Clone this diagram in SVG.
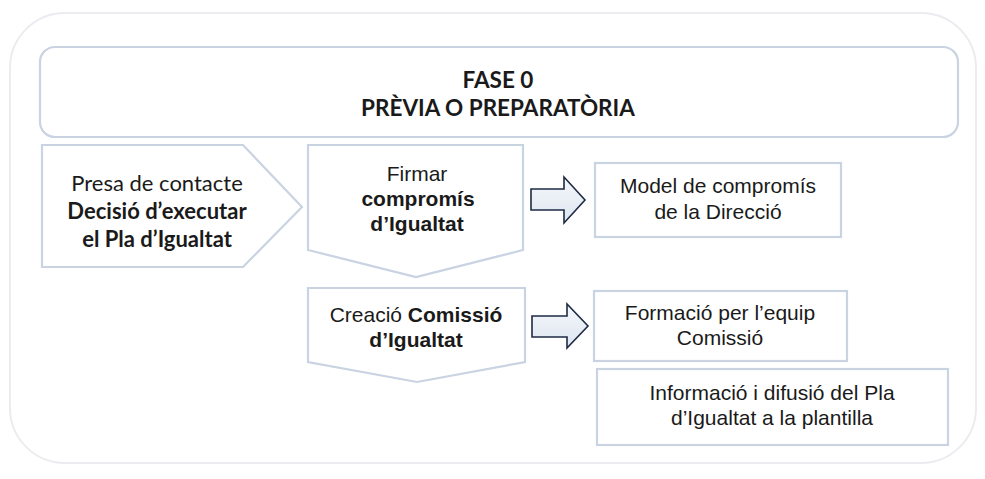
<svg xmlns="http://www.w3.org/2000/svg" width="985" height="479" viewBox="0 0 985 479">
  <defs>
    <linearGradient id="arrowFill" x1="0" y1="0" x2="0" y2="1">
      <stop offset="0" stop-color="#f4f7fb"/>
      <stop offset="1" stop-color="#dfe6f0"/>
    </linearGradient>
    <style>
      .frame { fill: none; stroke: #eaecf0; stroke-width: 2; }
      .box { fill: #ffffff; stroke: #c9d3e2; stroke-width: 2.2; }
      .arrow { fill: url(#arrowFill); stroke: #1e2b45; stroke-width: 1.6; stroke-linejoin: miter; }
      .cal { font-family: Lato, "Liberation Sans", sans-serif; fill: #1a1a1a; text-anchor: middle; }
      .ari { font-family: "Liberation Sans", Arial, sans-serif; font-size: 21px; fill: #1a1a1a; text-anchor: middle; }
      .b { font-weight: bold; }
    </style>
  </defs>
  <rect width="985" height="479" fill="#ffffff"/>
  <rect class="frame" x="10" y="13" width="966" height="450" rx="55"/>

  <g id="header">
    <rect class="box" x="40" y="47" width="918" height="90" rx="15"/>
    <text class="cal b" x="498" y="88" font-size="22.5">FASE 0</text>
    <text class="cal b" x="498" y="116" font-size="22.5">PRÈVIA O PREPARATÒRIA</text>
  </g>

  <g id="presa">
    <polygon class="box" points="42,145 243,145 302,207 243,267 42,267"/>
    <text class="cal" x="157" y="191" font-size="22">Presa de contacte</text>
    <text class="cal b" x="157" y="219" font-size="22">Decisió d’executar</text>
    <text class="cal b" x="157" y="247" font-size="22">el Pla d’Igualtat</text>
  </g>

  <g id="firmar">
    <polygon class="box" points="308,145 523,145 523,250 416,277 308,250"/>
    <text class="ari" x="417" y="181">Firmar</text>
    <text class="ari b" x="418" y="206">compromís</text>
    <text class="ari b" x="417" y="231">d’Igualtat</text>
  </g>

  <g id="creacio">
    <polygon class="box" points="308,288 525,288 525,362 417,382 308,362"/>
    <text class="ari" x="416" y="322">Creació <tspan class="b">Comissió</tspan></text>
    <text class="ari b" x="416" y="347">d’Igualtat</text>
  </g>

  <g id="model">
    <rect class="box" x="595" y="163" width="246" height="74"/>
    <text class="ari" x="718" y="193">Model de compromís</text>
    <text class="ari" x="718" y="219">de la Direcció</text>
  </g>

  <g id="formacio">
    <rect class="box" x="594" y="291" width="253" height="70"/>
    <text class="ari" x="720" y="320">Formació per l’equip</text>
    <text class="ari" x="720" y="345">Comissió</text>
  </g>

  <g id="informacio">
    <rect class="box" x="597" y="369" width="351" height="76"/>
    <text class="ari" x="772" y="400">Informació i difusió del Pla</text>
    <text class="ari" x="772" y="425">d’Igualtat a la plantilla</text>
  </g>

  <g id="connectors">
    <polygon class="arrow" points="531,189 564,189 564,177 585,200 564,223 564,210 531,210"/>
    <polygon class="arrow" points="532,316 567,316 567,304 588,326 567,348 567,337 532,337"/>
  </g>
</svg>
